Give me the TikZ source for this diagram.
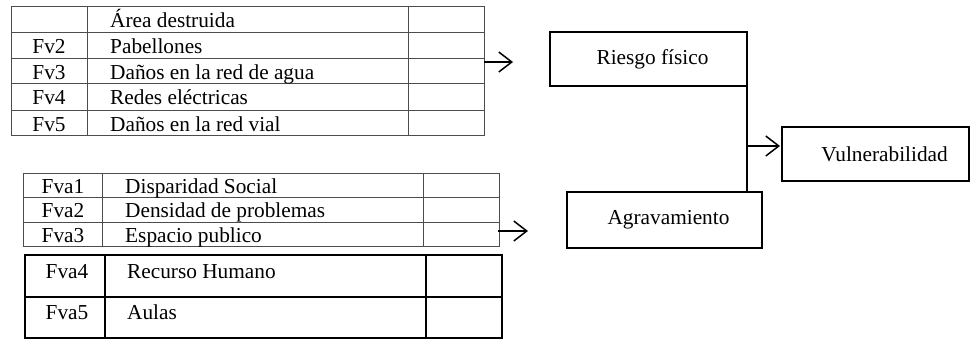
\documentclass[tikz,border=0pt]{standalone}
\usepackage{fontspec}
\setmainfont{Liberation Serif}
\usetikzlibrary{arrows.meta}
\begin{document}
\begin{tikzpicture}[x=1pt,y=-1pt,
  thingrid/.style={draw=black!70,line width=1pt},
  thickgrid/.style={draw=black,line width=1.7pt},
  boxnode/.style={draw=black,line width=1.8pt,inner sep=0pt,outer sep=0pt,font=\fontsize{21.3}{24}\selectfont},
  txt/.style={inner sep=0pt,font=\fontsize{21.3}{24}\selectfont,anchor=base west},
  ctxt/.style={txt,anchor=base},
  link/.style={line width=1.5pt},
  arr/.style={line width=1.5pt,-{Straight Barb[length=13pt,width=20pt,line width=1.5pt]}}]
\useasboundingbox (0,0) rectangle (971,341);

% ---- top table (Fv) ----
\draw[thingrid] (11,6) rectangle (484,135);
\foreach \yy in {32,58,83,110} \draw[thingrid] (11,\yy) -- (484,\yy);
\draw[thingrid] (87,6) -- (87,135);
\draw[thingrid] (408,6) -- (408,135);
\node[txt] (a1) at (110,27) {Área destruida};
\node[ctxt] (k2) at (49,53) {Fv2};
\node[txt] (a2) at (110,53) {Pabellones};
\node[ctxt] (k3) at (49,79) {Fv3};
\node[txt] (a3) at (110,79) {Daños en la red de agua};
\node[ctxt] (k4) at (49,104) {Fv4};
\node[txt] (a4) at (110,104) {Redes eléctricas};
\node[ctxt] (k5) at (49,131) {Fv5};
\node[txt] (a5) at (110,131) {Daños en la red vial};

% ---- lower table (Fva1-3) ----
\draw[thingrid] (23,173) rectangle (499,246);
\foreach \yy in {197,222} \draw[thingrid] (23,\yy) -- (499,\yy);
\draw[thingrid] (102,173) -- (102,246);
\draw[thingrid] (423,173) -- (423,246);
\node[ctxt] (b1) at (63,193) {Fva1};
\node[txt] (c1) at (125,193) {Disparidad Social};
\node[ctxt] (b2) at (63,217) {Fva2};
\node[txt] (c2) at (125,217) {Densidad de problemas};
\node[ctxt] (b3) at (63,242) {Fva3};
\node[txt] (c3) at (125,242) {Espacio publico};

% ---- lower table (Fva4-5) ----
\draw[thickgrid] (25,255) rectangle (502,338);
\draw[thickgrid] (25,297) -- (502,297);
\draw[thickgrid] (105,255) -- (105,338);
\draw[thickgrid] (426,255) -- (426,338);
\node[ctxt] (b4) at (67,278) {Fva4};
\node[txt] (c4) at (127,278) {Recurso Humano};
\node[ctxt] (b5) at (67,319) {Fva5};
\node[txt] (c5) at (127,319) {Aulas};

% ---- boxes ----
\node[boxnode,minimum width=197pt,minimum height=54pt] (riesgo) at (648.5,59) {\hspace*{8pt}Riesgo físico};
\node[boxnode,minimum width=195pt,minimum height=56pt] (agrav) at (664.5,220) {\hspace*{8pt}Agravamiento};
\node[boxnode,minimum width=187pt,minimum height=54pt] (vuln) at (875.5,154) {\hspace*{18pt}Vulnerabilidad};

% ---- connectors ----
\coordinate (t1) at (484,62);
\coordinate (t1e) at (513,62);
\draw[arr] (t1) -- (t1e);
\coordinate (t2) at (498,231);
\coordinate (t2e) at (528,231);
\draw[arr] (t2) -- (t2e);
\draw[link] (riesgo.south east) -- (riesgo.south east |- agrav.north);
\coordinate (j) at (747,146);
\draw[arr,shorten >=2pt] (j) -- (vuln.west |- j);
\end{tikzpicture}
\end{document}
